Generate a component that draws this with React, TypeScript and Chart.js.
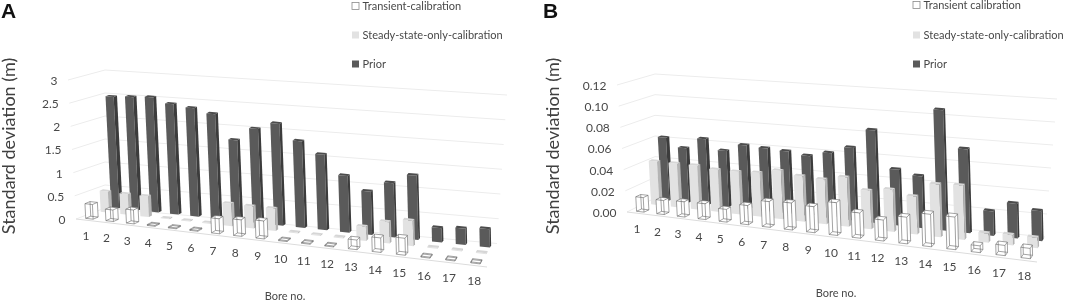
import React, { useEffect, useRef } from "react";
import { Chart, registerables } from "chart.js";

Chart.register(...registerables);

const bores = ["1","2","3","4","5","6","7","8","9","10","11","12","13","14","15","16","17","18"];

const priorA = [2.43,2.46,2.49,2.38,2.33,2.24,1.72,2.0,2.15,1.82,1.58,1.18,0.9,1.12,1.32,0.29,0.33,0.37];
const steadyA = [0.46,0.45,0.45,0.02,0.02,0.02,0.48,0.47,0.47,0.02,0.02,0.02,0.29,0.44,0.52,0.02,0.02,0.02];
const transientA = [0.32,0.25,0.3,0.02,0.02,0.02,0.32,0.35,0.38,0.02,0.02,0.02,0.2,0.3,0.35,0.02,0.02,0.02];

const priorB = [0.0605,0.052,0.0625,0.053,0.06,0.059,0.058,0.0555,0.06,0.0667,0.0844,0.0506,0.0466,0.1076,0.0745,0.0215,0.0304,0.026];
const steadyB = [0.042,0.042,0.042,0.04,0.04,0.041,0.045,0.042,0.041,0.045,0.035,0.038,0.034,0.047,0.048,0.008,0.009,0.009];
const transientB = [0.014,0.0135,0.0145,0.015,0.012,0.018,0.024,0.025,0.024,0.03,0.023,0.019,0.024,0.029,0.029,0.006,0.009,0.009];

const ticksA = [0,0.5,1,1.5,2,2.5,3];
const tickLabelsA = ["0","0.5","1","1.5","2","2.5","3"];
const ticksB = [0,0.02,0.04,0.06,0.08,0.1,0.12];
const tickLabelsB = ["0.00","0.02","0.04","0.06","0.08","0.10","0.12"];

const yTitle = "Standard deviation (m)";
const xTitle = "Bore no.";
const FONT = "Lato";
const TEXT = "#484848";

type Pt = [number, number];
const lerp = (a: Pt, b: Pt, k: number): Pt => [a[0] + (b[0] - a[0]) * k, a[1] + (b[1] - a[1]) * k];

const seriesLook = [
  { depth: 0.1, thick: 0.15, wire: true, front: "#ffffff", side: "#ffffff", top: "#ffffff" },
  { depth: 0.56, thick: 0.1, wire: false, front: "#e2e2e2", side: "#b4b4b4", top: "#d6d6d6" },
  { depth: 0.87, thick: 0.1, wire: false, front: "#5a5a5a", side: "#3c3c3c", top: "#4c4c4c" },
];

const plugin3d = {
  id: "bar3d",
  afterDatasetsDraw(chart: any, _a: any, o: any) {
    const ctx = chart.ctx as CanvasRenderingContext2D;
    const xs = chart.scales.x;
    const ys = chart.scales.y;
    const area = chart.chartArea;
    const warp = (s: number) => s * (0.879 + 0.121 * s);
    const floor = (t: number, d: number) => lerp(lerp(o.FL, o.FR, t), lerp(o.BL, o.BR, t), d);
    const bar = (s: number, d: number, z: number): Pt => {
      const t = warp(s);
      const f = floor(t, d);
      const u = lerp(o.upL, o.upR, t);
      return [f[0] + u[0] * z, f[1] + u[1] * z];
    };
    ctx.save();
    ctx.translate(-o.offset, 0);

    // walls and gridlines
    ctx.lineWidth = 1;
    ys.ticks.forEach((tick: any, i: number) => {
      const z = (ys.getPixelForValue(0) - ys.getPixelForValue(tick.value)) / (ys.getPixelForValue(0) - area.top);
      const a = lerp(o.FL, o.wallFT, z);
      const b = lerp(o.wallBL, o.wallBT, z);
      const c = lerp(o.wallBR, o.wallRT, z);
      ctx.strokeStyle = "#ececec";
      ctx.beginPath();
      ctx.moveTo(a[0], a[1]);
      ctx.lineTo(b[0], b[1]);
      ctx.lineTo(c[0], c[1]);
      ctx.stroke();
      ctx.fillStyle = TEXT;
      ctx.font = `${o.tickFont}px ${FONT}`;
      ctx.textAlign = "right";
      ctx.textBaseline = "middle";
      ctx.fillText(o.tickLabels[i], a[0] - 10.5, a[1] + 1);
    });
    ctx.strokeStyle = "#dcdcdc";
    ctx.beginPath();
    ctx.moveTo(o.FL[0], o.FL[1]);
    ctx.lineTo(o.FR[0], o.FR[1]);
    ctx.stroke();

    // bars, back series first
    for (let di = chart.data.datasets.length - 1; di >= 0; di--) {
      const look = seriesLook[di];
      const meta = chart.getDatasetMeta(di);
      meta.data.forEach((el: any) => {
        const span = ys.getPixelForValue(0) - area.top;
        const z = (el.base - el.y) / span;
        const s0 = (el.x - el.width / 2 - area.left) / area.width;
        const s1 = (el.x + el.width / 2 - area.left) / area.width;
        const d0 = look.depth;
        const d1 = look.depth + look.thick;
        const p = {
          a: bar(s0, d0, 0), b: bar(s1, d0, 0), c: bar(s1, d1, 0), e: bar(s0, d1, 0),
          A: bar(s0, d0, z), B: bar(s1, d0, z), C: bar(s1, d1, z), E: bar(s0, d1, z),
        };
        const poly = (pts: Pt[], fill: string) => {
          ctx.beginPath();
          pts.forEach((q, i) => (i ? ctx.lineTo(q[0], q[1]) : ctx.moveTo(q[0], q[1])));
          ctx.closePath();
          ctx.fillStyle = fill;
          ctx.fill();
        };
        poly([p.a, p.b, p.B, p.A], look.front);
        poly([p.b, p.c, p.C, p.B], look.side);
        poly([p.A, p.B, p.C, p.E], look.top);
        if (look.wire) {
          ctx.strokeStyle = "#666666";
          ctx.lineWidth = 0.6;
          const edges: Pt[][] = [
            [p.a, p.b], [p.b, p.c], [p.c, p.e], [p.e, p.a],
            [p.A, p.B], [p.B, p.C], [p.C, p.E], [p.E, p.A],
            [p.a, p.A], [p.b, p.B], [p.c, p.C], [p.e, p.E],
          ];
          edges.forEach(([m, n]) => {
            ctx.beginPath();
            ctx.moveTo(m[0], m[1]);
            ctx.lineTo(n[0], n[1]);
            ctx.stroke();
          });
        }
      });
    }

    // category labels
    ctx.fillStyle = TEXT;
    ctx.font = `${o.tickFont}px ${FONT}`;
    ctx.textAlign = "center";
    ctx.textBaseline = "middle";
    bores.forEach((label, i) => {
      const s = (xs.getPixelForValue(i) - area.left) / area.width;
      const f = floor(warp(s), 0);
      ctx.fillText(label, f[0], f[1] + 16);
    });

    // legend
    ctx.textAlign = "left";
    ctx.font = `${o.legendFont}px ${FONT}`;
    chart.data.datasets.forEach((ds: any, i: number) => {
      const y = o.legendY[i];
      const look = seriesLook[i];
      ctx.fillStyle = look.front;
      ctx.fillRect(o.legendX, y - 3.5, 7, 7);
      if (look.wire) {
        ctx.strokeStyle = "#8a8a8a";
        ctx.lineWidth = 0.8;
        ctx.strokeRect(o.legendX, y - 3.5, 7, 7);
      }
      ctx.fillStyle = TEXT;
      ctx.fillText(ds.label, o.legendX + 10.5, y);
    });

    // panel letter
    ctx.fillStyle = "#111111";
    ctx.font = `bold ${o.letterSize}px "Liberation Sans"`;
    ctx.textBaseline = "alphabetic";
    ctx.fillText(o.letter, o.letterX, 17.5);
    ctx.restore();
  },
};

function Panel(props: any) {
  const ref = useRef<HTMLCanvasElement>(null);
  useEffect(() => {
    const p = props;
    const chart = new Chart(ref.current as HTMLCanvasElement, {
      type: "bar",
      data: {
        labels: bores,
        datasets: [
          { label: p.names[0], data: p.transient, backgroundColor: "transparent", barPercentage: 0.37 },
          { label: p.names[1], data: p.steady, backgroundColor: "transparent" },
          { label: p.names[2], data: p.prior, backgroundColor: "transparent" },
        ],
      },
      options: {
        responsive: false,
        animation: false,
        events: [],
        layout: { padding: { top: 26, left: 0, right: 0, bottom: 0 } },
        datasets: { bar: { grouped: false, categoryPercentage: 1, barPercentage: 0.42 } },
        plugins: { legend: { display: false }, tooltip: { enabled: false }, bar3d: p.geo },
        scales: {
          x: {
            grid: { display: false },
            border: { display: false },
            ticks: { display: false },
            title: {
              display: true,
              text: xTitle,
              color: TEXT,
              font: { family: FONT, size: 11, lineHeight: 1 },
              padding: { top: 17 - p.xTitleBottom, bottom: p.xTitleBottom },
            },
          },
          y: {
            min: 0,
            max: p.ticks[p.ticks.length - 1],
            grid: { display: false },
            border: { display: false },
            afterBuildTicks: (scale: any) => {
              scale.ticks = p.ticks.map((value: number) => ({ value }));
            },
            ticks: { display: false },
            title: {
              display: true,
              text: yTitle,
              color: "#404040",
              font: { family: FONT, size: 18, lineHeight: 1 },
              padding: p.yTitlePad,
            },
          },
        },
      } as any,
      plugins: [plugin3d as any],
    });
    return () => chart.destroy();
  }, []);
  return (
    <canvas
      ref={ref}
      width={props.width}
      height={302}
      style={{ position: "absolute", left: props.left, top: 0, width: props.width, height: 302, filter: "blur(0.45px)" }}
    />
  );
}

const geoA = {
  offset: 0, letter: "A", letterX: 1, letterSize: 21,
  FL: [76, 219], FR: [487, 267], BL: [110, 205], BR: [498.5, 245.5],
  upL: [-7, -137], upR: [-3, -148],
  wallFT: [68, 80], wallBL: [105, 208], wallBT: [105, 70], wallBR: [497, 243.5], wallRT: [507, 95],
  tickLabels: tickLabelsA, tickFont: 12,
  legendX: 352, legendY: [6, 35, 64], legendFont: 11,
};
const geoB = {
  offset: 530, letter: "B", letterX: 543, letterSize: 21,
  FL: [627, 212], FR: [1037, 262], BL: [660, 197], BR: [1051, 239],
  upL: [-7, -124], upR: [-3, -138],
  wallFT: [617, 85], wallBL: [655, 198], wallBT: [655, 74], wallBR: [1045, 237], wallRT: [1057, 99],
  tickLabels: tickLabelsB, tickFont: 12,
  legendX: 913, legendY: [5, 35, 64], legendFont: 11,
};

export default function App() {
  return (
    <div style={{ position: "absolute", left: 0, top: 0, width: 1065, height: 302, overflow: "hidden", background: "#fff" }}>
      <Panel
        left={0} width={530}
        names={["Transient-calibration", "Steady-state-only-calibration", "Prior"]}
        transient={transientA} steady={steadyA} prior={priorA}
        ticks={ticksA} geo={geoA} xTitleBottom={0}
        yTitlePad={{ top: 0, bottom: 14 }}
      />
      <Panel
        left={530} width={535}
        names={["Transient calibration", "Steady-state-only-calibration", "Prior"]}
        transient={transientB} steady={steadyB} prior={priorB}
        ticks={ticksB} geo={geoB} xTitleBottom={3}
        yTitlePad={{ top: 14, bottom: 37 }}
      />
    </div>
  );
}
